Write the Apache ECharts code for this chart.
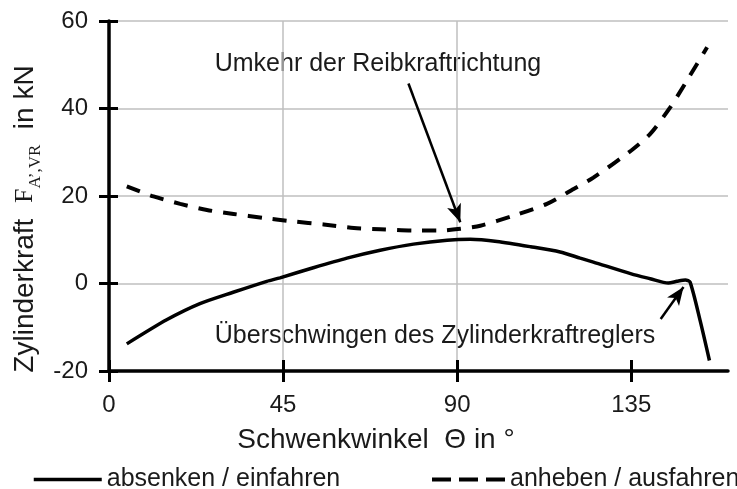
<!DOCTYPE html>
<html>
<head>
<meta charset="utf-8">
<script src="https://cdn.jsdelivr.net/npm/echarts@6/dist/echarts.min.js"></script>
<style>
  html, body { margin: 0; padding: 0; background: #ffffff; }
  #chart { width: 737px; height: 489px; }
</style>
</head>
<body>
<div id="chart"></div>
<script>
// Cylinder force over swivel angle, lowering (solid) and lifting (dashed)
const lowerAngle = [4.6, 14.9, 23.5, 32.1, 40.8, 44.2, 52.8, 61.5, 70.1, 78.7, 87.4, 93.4, 100.3, 109.0, 116.6, 121.8, 125.2, 135.0, 139.9, 144.6, 146.8, 149.0, 150.2, 152.8, 155.2];
const lowerForce = [-13.8, -8.3, -4.6, -2.0, 0.5, 1.3, 3.6, 5.8, 7.6, 9.0, 9.9, 10.1, 9.6, 8.4, 7.2, 5.8, 4.9, 2.2, 1.1, 0.1, 0.5, 0.8, 0.3, -8.5, -17.6];

const raiseAngle = [4.6, 11.5, 18.4, 25.3, 32.2, 40.0, 47.5, 55.5, 63.3, 70.1, 78.7, 85.6, 90.8, 96.0, 104.6, 113.2, 120.1, 125.2, 135.0, 139.9, 145.1, 149.4, 154.6];
const raiseForce = [22.2, 19.9, 18.2, 16.8, 15.9, 15.0, 14.2, 13.5, 12.7, 12.4, 12.1, 12.1, 12.5, 13.2, 15.5, 18.2, 21.6, 24.2, 30.4, 34.2, 40.3, 46.4, 54.0];

const xTicks = [0, 45, 90, 135];
const yMin = -20, yMax = 60, yStep = 20;
const xMin = 0, xMax = 160;

const seriesNames = ['absenken / einfahren', 'anheben / ausfahren'];

// Annotation arrows: [tail, head] in data coordinates
const arrowReversal = [[77.4, 45.7], [90.8, 14.0]];
const arrowOvershoot = [[142.6, -8.1], [148.5, -0.8]];

const FONT = '"Liberation Sans", Arial, sans-serif';
const SERIF = '"Liberation Serif", "Times New Roman", serif';
const TXT = '#1a1a1a';

const zip = (a, b) => a.map((v, i) => [v, b[i]]);

const chart = echarts.init(document.getElementById('chart'), null, { renderer: 'canvas' });

const tickStyle = { color: '#000', width: 3 };
const hiddenSymbol = { color: 'rgba(0,0,0,0)', borderWidth: 0, opacity: 0 };

chart.setOption({
  animation: false,
  backgroundColor: '#ffffff',
  grid: { left: 109, right: 9, top: 21, bottom: 118, containLabel: false },
  legend: [
    {
      data: [seriesNames[0]], left: 27, top: 462, itemWidth: 68, itemHeight: 16,
      itemStyle: hiddenSymbol,
      lineStyle: { type: 'solid', width: 3.5 },
      textStyle: { fontSize: 25, fontFamily: FONT, color: TXT },
      selectedMode: false
    },
    {
      data: [seriesNames[1]], left: 425, top: 462, itemWidth: 73, itemHeight: 16,
      itemStyle: hiddenSymbol,
      lineStyle: { type: [19, 8], width: 4 },
      textStyle: { fontSize: 25, fontFamily: FONT, color: TXT },
      selectedMode: false
    }
  ],
  xAxis: [
    {
      type: 'value', min: xMin, max: xMax, position: 'bottom',
      axisLine: { show: true, onZero: false, lineStyle: { color: '#000', width: 3.5 } },
      axisTick: { show: true, customValues: xTicks, length: 11, lineStyle: tickStyle },
      axisLabel: { customValues: xTicks, fontSize: 24, fontFamily: FONT, color: TXT, margin: 22 },
      splitLine: { show: true, showMaxLine: false, lineStyle: { color: '#bfbfbf', width: 1.5 } }
    },
    {
      type: 'value', min: xMin, max: xMax, position: 'bottom',
      axisLine: { show: false, onZero: false },
      axisTick: { show: true, inside: true, customValues: xTicks, length: 11, lineStyle: tickStyle },
      axisLabel: { show: false },
      splitLine: { show: false }
    }
  ],
  yAxis: [
    {
      type: 'value', min: yMin, max: yMax, interval: yStep, position: 'left',
      axisLine: { show: true, onZero: false, lineStyle: { color: '#000', width: 3.5 } },
      axisTick: { show: true, length: 10, lineStyle: tickStyle },
      axisLabel: { fontSize: 24, fontFamily: FONT, color: TXT, margin: 21 },
      splitLine: { show: true, lineStyle: { color: '#bfbfbf', width: 1.5 } }
    },
    {
      type: 'value', min: yMin, max: yMax, interval: yStep, position: 'left',
      axisLine: { show: false, onZero: false },
      axisTick: { show: true, inside: true, length: 9, lineStyle: tickStyle },
      axisLabel: { show: false },
      splitLine: { show: false }
    }
  ],
  series: [
    {
      name: seriesNames[0], type: 'line', data: zip(lowerAngle, lowerForce),
      smooth: 0.25, symbol: 'none', z: 3,
      lineStyle: { color: '#000', width: 3.5, type: 'solid' },
      itemStyle: { color: '#000' },
      markLine: {
        silent: true, symbol: ['none', 'arrow'], symbolSize: [11, 18],
        label: { show: false },
        lineStyle: { color: '#000', width: 2.5, type: 'solid' },
        data: [
          [{ coord: arrowReversal[0] }, { coord: arrowReversal[1] }],
          [{ coord: arrowOvershoot[0] }, { coord: arrowOvershoot[1] }]
        ]
      }
    },
    {
      name: seriesNames[1], type: 'line', data: zip(raiseAngle, raiseForce),
      smooth: 0.25, symbol: 'none', z: 3,
      lineStyle: { color: '#000', width: 4, type: [14, 11] },
      itemStyle: { color: '#000' }
    }
  ],
  graphic: [
    {
      type: 'text', x: 25, y: 219, rotation: Math.PI / 2,
      style: {
        text: '{a|Zylinderkraft  }{f|F}{s|A\u2019,VR}{a|  in kN}',
        align: 'center', verticalAlign: 'middle',
        rich: {
          a: { fontSize: 28, fontFamily: FONT, fill: TXT, lineHeight: 38 },
          f: { fontSize: 26, fontFamily: SERIF, fill: TXT, lineHeight: 38 },
          s: { fontSize: 17, fontFamily: SERIF, fill: TXT, lineHeight: 18, verticalAlign: 'bottom' }
        }
      }
    },
    {
      type: 'text', x: 376, y: 440,
      style: { text: 'Schwenkwinkel  \u0398 in \u00b0', fontSize: 28, fontFamily: FONT, fill: TXT, align: 'center', verticalAlign: 'middle' }
    },
    {
      type: 'text', x: 378, y: 64,
      style: { text: 'Umkehr der Reibkraftrichtung', fontSize: 25, fontFamily: FONT, fill: TXT, align: 'center', verticalAlign: 'middle' }
    },
    {
      type: 'text', x: 435, y: 336,
      style: { text: '\u00dcberschwingen des Zylinderkraftreglers', fontSize: 25, fontFamily: FONT, fill: TXT, align: 'center', verticalAlign: 'middle' }
    }
  ]
});
</script>
</body>
</html>
